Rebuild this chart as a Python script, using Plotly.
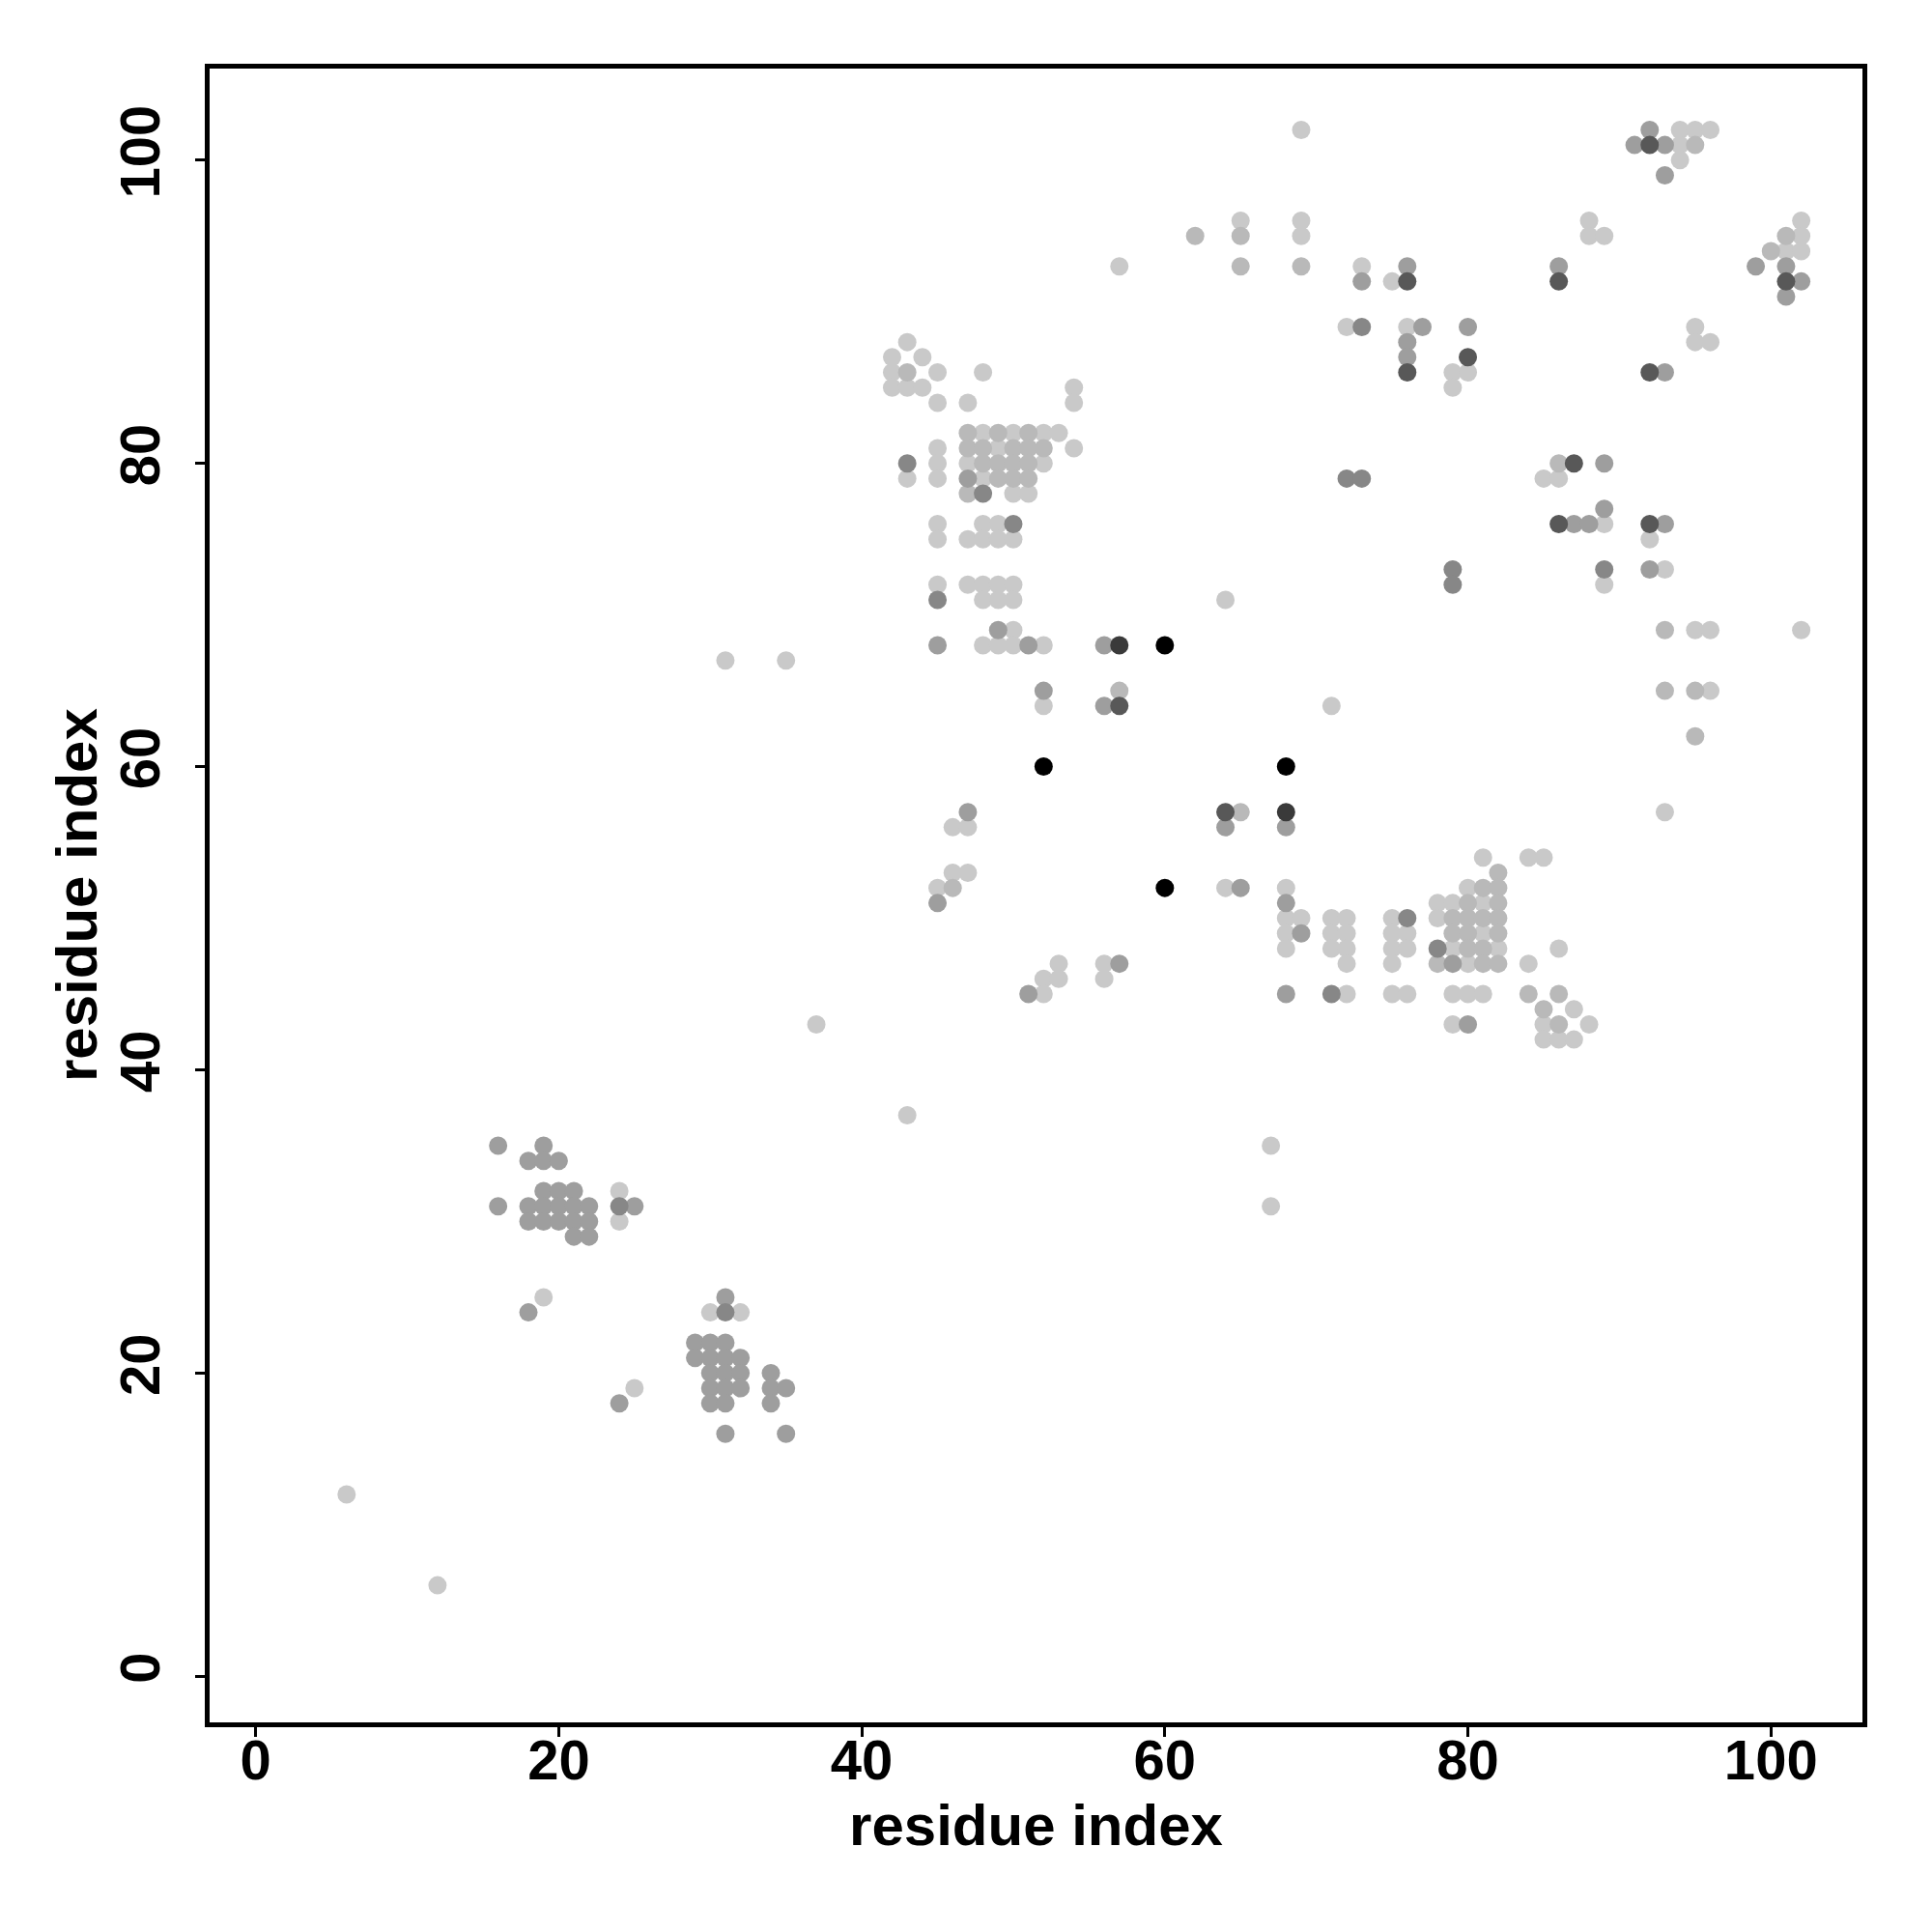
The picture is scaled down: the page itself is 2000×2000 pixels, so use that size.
import plotly.graph_objects as go

# contact list: residue i, residue j, grey grade (0 = lightest ... 6 = black)
res_i = [
    # bottom-left cluster
    16, 19, 18, 19, 20,
    19, 20, 21, 24,
    16, 18, 19, 20, 21, 22, 24, 25,
    18, 19, 20, 21, 22, 24,
    21, 22,
    19, 18,
    31, 30, 31, 32,
    29, 30, 31,
    29, 30, 31, 32,
    30, 31, 32, 34,
    25, 30, 31, 32, 34, 35,
    24, 30, 31, 34,
    31, 35,
    # isolated points
    6, 12, 37, 43, 31, 35, 67, 67, 57,
    # cluster 42-54 / 75-88
    43,
    42, 44,
    42, 43, 45, 48,
    42, 43, 44, 54,
    45, 47, 54,
    47, 48, 49, 50, 51, 52, 53,
    45, 47, 48, 49, 50, 51, 52, 54,
    43, 45, 47, 48, 49, 50, 51, 52,
    43, 45, 47, 48, 49, 50, 51,
    47, 48, 50, 51,
    45, 48, 49, 50,
    45, 47, 48, 49, 50,
    45, 47, 48, 49, 50,
    45, 48, 49, 50,
    49, 50,
    45, 48, 49, 50, 51, 52, 56, 57, 60,
    52, 57,
    52, 56, 57,
    64, 71,
    52, 68,
    47, 64, 65, 68,
    46, 47, 64, 68,
    46, 47,
    45, 46, 60, 64, 65, 68,
    45, 68,
    68, 69,
    68, 69,
    68,
    53, 56, 57,
    52, 53, 56,
    51, 52, 68,
    # cluster 71-88 / 42-54
    81, 84, 85,
    82,
    80, 81, 82,
    78, 79, 80, 81, 82,
    71, 72, 75, 76, 78, 79, 80, 81, 82,
    71, 72, 75, 76, 79, 80, 81, 82,
    71, 72, 75, 76, 78, 79, 80, 81, 82, 86,
    72, 75, 78, 79, 80, 81, 82, 84,
    71, 72, 75, 76, 79, 80, 81, 84, 86,
    85, 87,
    79, 80, 85, 86, 88,
    85, 86, 87,
    # upper region 62-80 / 85-102
    69,
    65, 69,
    62, 65, 69,
    65, 69, 73, 76,
    73, 75, 76,
    72, 73, 76, 77, 80,
    76,
    76, 80,
    76, 79, 80,
    79,
    # upper right 86-102 / 86-102
    92, 94, 95, 96,
    91, 92, 93, 94, 95,
    94,
    93,
    88, 102,
    88, 89, 101, 102,
    100, 101, 102,
    86, 99, 101,
    86, 101, 102,
    101,
    95,
    95, 96,
    92, 93,
    # right side 85-102 / 57-80
    86, 87, 89,
    85, 86,
    89,
    86, 87, 88, 89, 92, 93,
    92,
    89, 92, 93,
    89,
    93, 95, 96, 102,
    93, 95, 96,
    95,
    93,
    72, 73, 79, 79,
]

res_j = [
    35, 35, 34, 34, 34,
    32, 32, 32, 32,
    31, 31, 31, 31, 31, 31, 31, 31,
    30, 30, 30, 30, 30, 30,
    29, 29,
    25, 24,
    25, 24, 24, 24,
    22, 22, 22,
    21, 21, 21, 21,
    20, 20, 20, 20,
    19, 19, 19, 19, 19, 19,
    18, 18, 18, 18,
    16, 16,
    12, 6, 43, 37, 67, 67, 35, 31, 93,
    88,
    87, 87,
    86, 86, 86, 86,
    85, 85, 85, 85,
    84, 84, 84,
    82, 82, 82, 82, 82, 82, 82,
    81, 81, 81, 81, 81, 81, 81, 81,
    80, 80, 80, 80, 80, 80, 80, 80,
    79, 79, 79, 79, 79, 79, 79,
    78, 78, 78, 78,
    76, 76, 76, 76,
    75, 75, 75, 75, 75,
    72, 72, 72, 72, 72,
    71, 71, 71, 71,
    69, 69,
    68, 68, 68, 68, 68, 68, 68, 68, 68,
    65, 65,
    64, 64, 64,
    71, 64,
    60, 60,
    57, 57, 57, 57,
    56, 56, 56, 56,
    53, 53,
    52, 52, 52, 52, 52, 52,
    51, 51,
    50, 50,
    49, 49,
    48,
    47, 47, 47,
    46, 46, 46,
    45, 45, 45,
    54, 54, 54,
    53,
    52, 52, 52,
    51, 51, 51, 51, 51,
    50, 50, 50, 50, 50, 50, 50, 50, 50,
    49, 49, 49, 49, 49, 49, 49, 49,
    48, 48, 48, 48, 48, 48, 48, 48, 48, 48,
    47, 47, 47, 47, 47, 47, 47, 47,
    45, 45, 45, 45, 45, 45, 45, 45, 45,
    44, 44,
    43, 43, 43, 43, 43,
    42, 42, 42,
    102,
    96, 96,
    95, 95, 95,
    93, 93, 93, 93,
    92, 92, 92,
    89, 89, 89, 89, 89,
    88,
    87, 87,
    86, 86, 86,
    85,
    102, 102, 102, 102,
    101, 101, 101, 101, 101,
    100,
    99,
    96, 96,
    95, 95, 95, 95,
    94, 94, 94,
    93, 93, 93,
    92, 92, 92,
    91,
    89,
    88, 88,
    86, 86,
    80, 80, 80,
    79, 79,
    77,
    76, 76, 76, 76, 76, 76,
    75,
    73, 73, 73,
    72,
    69, 69, 69, 69,
    65, 65, 65,
    62,
    57,
    79, 79, 73, 72,
]

grade = [
    2, 2, 2, 2, 2,
    2, 2, 2, 0,
    2, 2, 2, 2, 2, 2, 3, 2,
    2, 2, 2, 2, 2, 0,
    2, 2,
    0, 2,
    2, 0, 3, 0,
    2, 2, 2,
    2, 2, 2, 2,
    2, 2, 2, 2,
    0, 2, 2, 2, 2, 2,
    2, 2, 2, 2,
    2, 2,
    0, 0, 0, 0, 0, 0, 0, 0, 0,
    0,
    0, 0,
    0, 1, 0, 0,
    0, 0, 0, 0,
    0, 0, 0,
    1, 0, 1, 0, 1, 0, 0,
    0, 1, 1, 0, 1, 1, 1, 0,
    3, 0, 0, 1, 1, 1, 1, 0,
    0, 0, 2, 0, 1, 1, 1,
    1, 3, 0, 0,
    0, 0, 0, 3,
    0, 0, 0, 0, 0,
    0, 0, 0, 0, 0,
    3, 0, 0, 0,
    2, 0,
    2, 0, 0, 0, 2, 0, 2, 5, 6,
    2, 1,
    0, 2, 4,
    0, 0,
    6, 6,
    2, 4, 1, 5,
    0, 0, 2, 2,
    0, 0,
    0, 1, 6, 0, 2, 0,
    2, 2,
    0, 0,
    0, 2,
    0,
    0, 0, 2,
    0, 0, 0,
    2, 0, 2,
    0, 0, 0,
    1,
    0, 1, 1,
    0, 0, 1, 0, 1,
    0, 0, 0, 3, 0, 1, 1, 1, 1,
    0, 0, 0, 0, 1, 1, 0, 1,
    0, 0, 0, 0, 3, 0, 1, 1, 0, 0,
    0, 0, 1, 2, 0, 1, 1, 0,
    3, 0, 0, 0, 0, 0, 0, 1, 1,
    1, 0,
    0, 2, 0, 1, 0,
    0, 0, 0,
    0,
    0, 0,
    1, 1, 0,
    1, 1, 0, 2,
    2, 0, 4,
    0, 3, 0, 2, 2,
    2,
    2, 4,
    4, 0, 0,
    0,
    2, 0, 0, 0,
    2, 4, 2, 0, 1,
    0,
    2,
    0, 0,
    0, 0, 1, 0,
    1, 0, 0,
    2, 2, 2,
    4, 4, 2,
    2,
    0,
    0, 0,
    4, 2,
    1, 4, 2,
    0, 0,
    2,
    4, 2, 2, 0, 4, 2,
    0,
    3, 2, 0,
    0,
    1, 0, 0, 0,
    1, 1, 0,
    1,
    0,
    3, 3, 3, 3,
]

grey_levels = ["#c9c9c9", "#b9b9b9", "#9e9e9e", "#878787", "#585858", "#3a3a3a", "#000000"]

assert len(res_i) == len(res_j) == len(grade)

fig = go.Figure()
for g, col in enumerate(grey_levels):
    xs = [a for a, k in zip(res_i, grade) if k == g]
    ys = [b for b, k in zip(res_j, grade) if k == g]
    fig.add_trace(go.Scatter(
        x=xs, y=ys, mode="markers",
        marker=dict(size=19, color=col, line=dict(width=0)),
        showlegend=False, hoverinfo="x+y",
    ))

tick_vals = [0, 20, 40, 60, 80, 100]
font_family = "Liberation Sans, Arial, Helvetica, sans-serif"
tick_font = dict(family=font_family, size=58, color="black", weight="bold")
title_font = dict(family=font_family, size=60, color="black", weight="bold")
axis_common = dict(
    range=[-3.04, 106.04],
    tickvals=tick_vals,
    ticktext=[str(v) for v in tick_vals],
    ticks="outside", ticklen=10, tickwidth=3, tickcolor="black",
    showline=True, linewidth=5, linecolor="black", mirror=True,
    showgrid=False, zeroline=False,
    tickfont=tick_font,
)

fig.update_layout(
    width=1992, height=1992,
    margin=dict(l=209, r=72, t=63, b=217),
    paper_bgcolor="white", plot_bgcolor="white",
    xaxis=dict(**axis_common, ticklabelstandoff=-26,
               title=dict(text="residue index", standoff=17, font=title_font)),
    yaxis=dict(**axis_common, tickangle=-90, ticklabelstandoff=14),
    annotations=[dict(
        text="residue index", textangle=-90,
        xref="paper", yref="paper", x=0, y=0.5,
        xanchor="center", yanchor="middle", xshift=-138,
        showarrow=False, font=title_font,
    )],
)

fig.write_html("out.html")
